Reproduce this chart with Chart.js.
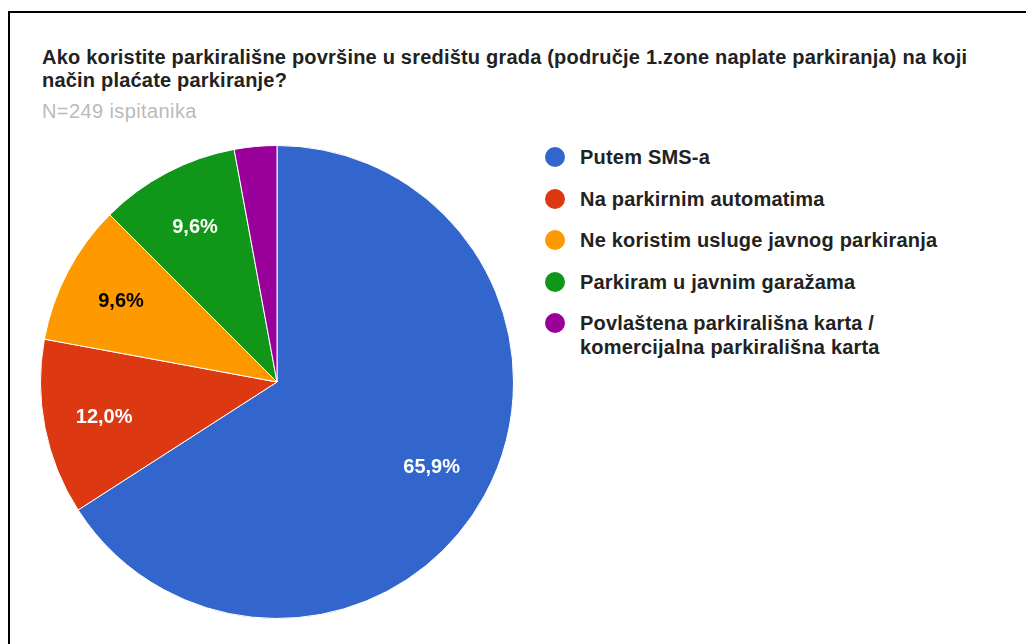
<!DOCTYPE html>
<html>
<head>
<meta charset="utf-8">
<script src="https://cdn.jsdelivr.net/npm/chart.js@4.4.0/dist/chart.umd.min.js"></script>
<style>
    body { margin: 0; background: #fff; font-family: "Liberation Sans", Arial, sans-serif; }
    #page { position: relative; width: 1026px; height: 644px; overflow: hidden; }
    #frame { position: absolute; left: 8px; top: 11px; width: 1030px; height: 700px;
             border-top: 2px solid #000; border-left: 2px solid #000; }
    #title { position: absolute; left: 42px; top: 46px; font-size: 20px; font-weight: bold;
             line-height: 23px; color: #222; width: 960px; letter-spacing: 0.2px; }
    #subtitle { position: absolute; left: 42px; top: 100px; font-size: 20px; line-height: 23px;
                color: #bbb; letter-spacing: 0.4px; }
    #chartBox { position: absolute; left: 40px; top: 145px; width: 474px; height: 474px; }
    #legend { position: absolute; left: 545px; top: 145px; width: 400px; }
    .item { position: relative; padding-left: 35px; margin-bottom: 17.5px; font-size: 20px;
            font-weight: bold; line-height: 24px; color: #222; letter-spacing: 0.2px; }
    .dot { position: absolute; left: 0; top: 2px; width: 20px; height: 20px; border-radius: 50%; }
</style>
</head>
<body>
<div id="page">
    <div id="frame"></div>
    <div id="title"></div>
    <div id="subtitle"></div>
    <div id="chartBox"><canvas id="pieChart" width="474" height="474"></canvas></div>
    <div id="legend"></div>
</div>
<script>
const titleText = 'Ako koristite parkirališne površine u središtu grada (područje 1.zone naplate parkiranja) na koji način plaćate parkiranje?';
const subtitleText = 'N=249 ispitanika';
const categories = [
    'Putem SMS-a',
    'Na parkirnim automatima',
    'Ne koristim usluge javnog parkiranja',
    'Parkiram u javnim garažama',
    'Povlaštena parkirališna karta / komercijalna parkirališna karta'
];
const shares = [65.9, 12.0, 9.6, 9.6, 2.9];
const sliceColors = ['#3366cc', '#dc3912', '#ff9900', '#109618', '#990099'];
const labelColors = ['#fff', '#fff', '#000', '#fff', '#fff'];

document.getElementById('title').textContent = titleText;
document.getElementById('subtitle').textContent = subtitleText;

// percentage text inside the slices, hidden for the small ones
const sliceText = {
    id: 'sliceText',
    afterDatasetsDraw(chart) {
        const c = chart.ctx;
        const arcs = chart.getDatasetMeta(0).data;
        c.save();
        c.font = 'bold 20px "Liberation Sans", Arial, sans-serif';
        c.textAlign = 'center';
        c.textBaseline = 'middle';
        arcs.forEach((arc, i) => {
            if (shares[i] < 5) return;
            const mid = (arc.startAngle + arc.endAngle) / 2;
            const r = arc.outerRadius * 0.745;
            c.fillStyle = labelColors[i];
            c.fillText(shares[i].toFixed(1).replace('.', ',') + '%',
                arc.x + Math.cos(mid) * r, arc.y + Math.sin(mid) * r + 1);
        });
        c.restore();
    }
};

const myChart = new Chart(document.getElementById('pieChart').getContext('2d'), {
    type: 'pie',
    data: {
        labels: categories,
        datasets: [{
            data: shares,
            backgroundColor: sliceColors,
            borderColor: '#fff',
            borderWidth: 1
        }]
    },
    options: {
        responsive: false,
        animation: false,
        layout: { padding: 0 },
        plugins: {
            legend: { display: false },
            tooltip: { enabled: false }
        }
    },
    plugins: [sliceText]
});

// legend built from the chart's own items
const legendDiv = document.getElementById('legend');
myChart.options.plugins.legend.labels.generateLabels(myChart).forEach(item => {
    const row = document.createElement('div');
    row.className = 'item';
    row.innerHTML = `<span class="dot" style="background:${item.fillStyle}"></span>${item.text}`;
    legendDiv.appendChild(row);
});
</script>
</body>
</html>
